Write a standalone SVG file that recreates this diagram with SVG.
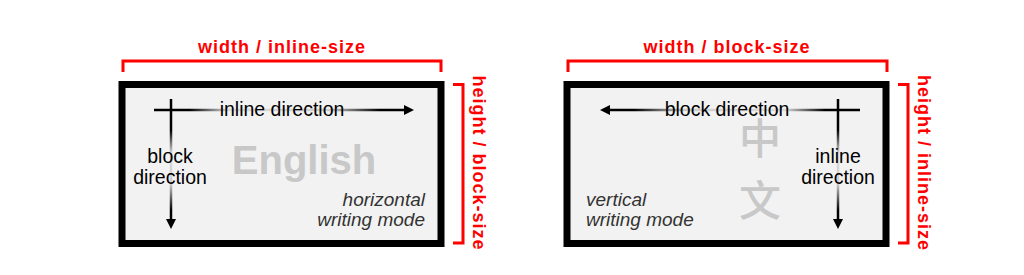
<svg xmlns="http://www.w3.org/2000/svg" width="1024" height="275" viewBox="0 0 1024 275">
<style>
.box{fill:#f2f2f2;stroke:#000;stroke-width:7}
.br{fill:none;stroke:#ff0000;stroke-width:3}
.red{font-family:"Liberation Sans",Arial,sans-serif;font-size:18px;font-weight:bold;fill:#ff0000;text-anchor:middle;letter-spacing:1px}
.lbl{font-family:"Liberation Sans",Arial,sans-serif;font-size:19.5px;fill:#000;text-anchor:middle}
.it{font-family:"Liberation Sans",Arial,sans-serif;font-size:19px;font-style:italic;fill:#333}
.big{font-family:"Liberation Sans",Arial,sans-serif;font-size:40px;font-weight:bold;fill:#c8c8c8;text-anchor:middle}
.cjk{font-family:"Liberation Sans","Noto Sans CJK SC",sans-serif;font-size:42px;font-weight:500;fill:#c8c8c8;text-anchor:middle}
.ln{fill:none;stroke-width:2.5}
</style>
<defs>
<linearGradient id="gh1" gradientUnits="userSpaceOnUse" x1="154" y1="0" x2="405" y2="0">
<stop offset="0" stop-color="#000"/><stop offset="0.14" stop-color="#000"/><stop offset="0.3" stop-color="#ddd"/><stop offset="0.7" stop-color="#ccc"/><stop offset="0.9" stop-color="#000"/><stop offset="1" stop-color="#000"/>
</linearGradient>
<linearGradient id="gv1" gradientUnits="userSpaceOnUse" x1="0" y1="100" x2="0" y2="220">
<stop offset="0" stop-color="#000"/><stop offset="0.25" stop-color="#000"/><stop offset="0.45" stop-color="#ddd"/><stop offset="0.7" stop-color="#ccc"/><stop offset="0.92" stop-color="#000"/><stop offset="1" stop-color="#000"/>
</linearGradient>
<linearGradient id="gh2" gradientUnits="userSpaceOnUse" x1="860" y1="0" x2="609" y2="0">
<stop offset="0" stop-color="#000"/><stop offset="0.14" stop-color="#000"/><stop offset="0.3" stop-color="#ddd"/><stop offset="0.7" stop-color="#ccc"/><stop offset="0.9" stop-color="#000"/><stop offset="1" stop-color="#000"/>
</linearGradient>
<marker id="ah" viewBox="0 0 10 10" refX="1" refY="5" markerWidth="4" markerHeight="4" orient="auto" markerUnits="strokeWidth">
<path d="M0,0 L10,5 L0,10 z" fill="#000"/>
</marker>
</defs>

<g id="horizontal-box">
<rect class="box" x="122" y="84.5" width="319" height="159"/>
<text class="big" x="304" y="174">English</text>
<text class="it" x="425" y="206" text-anchor="end">horizontal</text>
<text class="it" x="425" y="226" text-anchor="end">writing mode</text>
</g>

<g id="horizontal-dims">
<path class="br" d="M123,72 V61 H441 V72"/>
<text class="red" x="282" y="53">width / inline-size</text>
<path class="br" d="M453,84.5 H463 V243 H453"/>
<text class="red" transform="translate(473,163) rotate(90)">height / block-size</text>
</g>

<g id="vertical-box">
<rect class="box" x="567" y="84.5" width="319" height="159"/>
<text class="cjk" x="760" y="154">中</text>
<text class="cjk" x="760" y="216">文</text>
<text class="it" x="586" y="206">vertical</text>
<text class="it" x="586" y="226">writing mode</text>
</g>

<g id="vertical-dims">
<path class="br" d="M568,72 V61 H887 V72"/>
<text class="red" x="727" y="53">width / block-size</text>
<path class="br" d="M898,84.5 H908 V243 H898"/>
<text class="red" transform="translate(918,163) rotate(90)">height / inline-size</text>
</g>

<g id="connectors">
<path class="ln" d="M154,110 H405" stroke="url(#gh1)" marker-end="url(#ah)"/>
<path class="ln" d="M171,99 V220" stroke="url(#gv1)" marker-end="url(#ah)"/>
<path class="ln" d="M860,110 H609" stroke="url(#gh2)" marker-end="url(#ah)"/>
<path class="ln" d="M838,99 V220" stroke="url(#gv1)" marker-end="url(#ah)"/>
</g>

<g id="labels">
<text class="lbl" x="282" y="116">inline direction</text>
<text class="lbl" x="170" y="163">block</text>
<text class="lbl" x="170" y="184">direction</text>
<text class="lbl" x="727" y="116">block direction</text>
<text class="lbl" x="838" y="163">inline</text>
<text class="lbl" x="838" y="184">direction</text>
</g>
</svg>
